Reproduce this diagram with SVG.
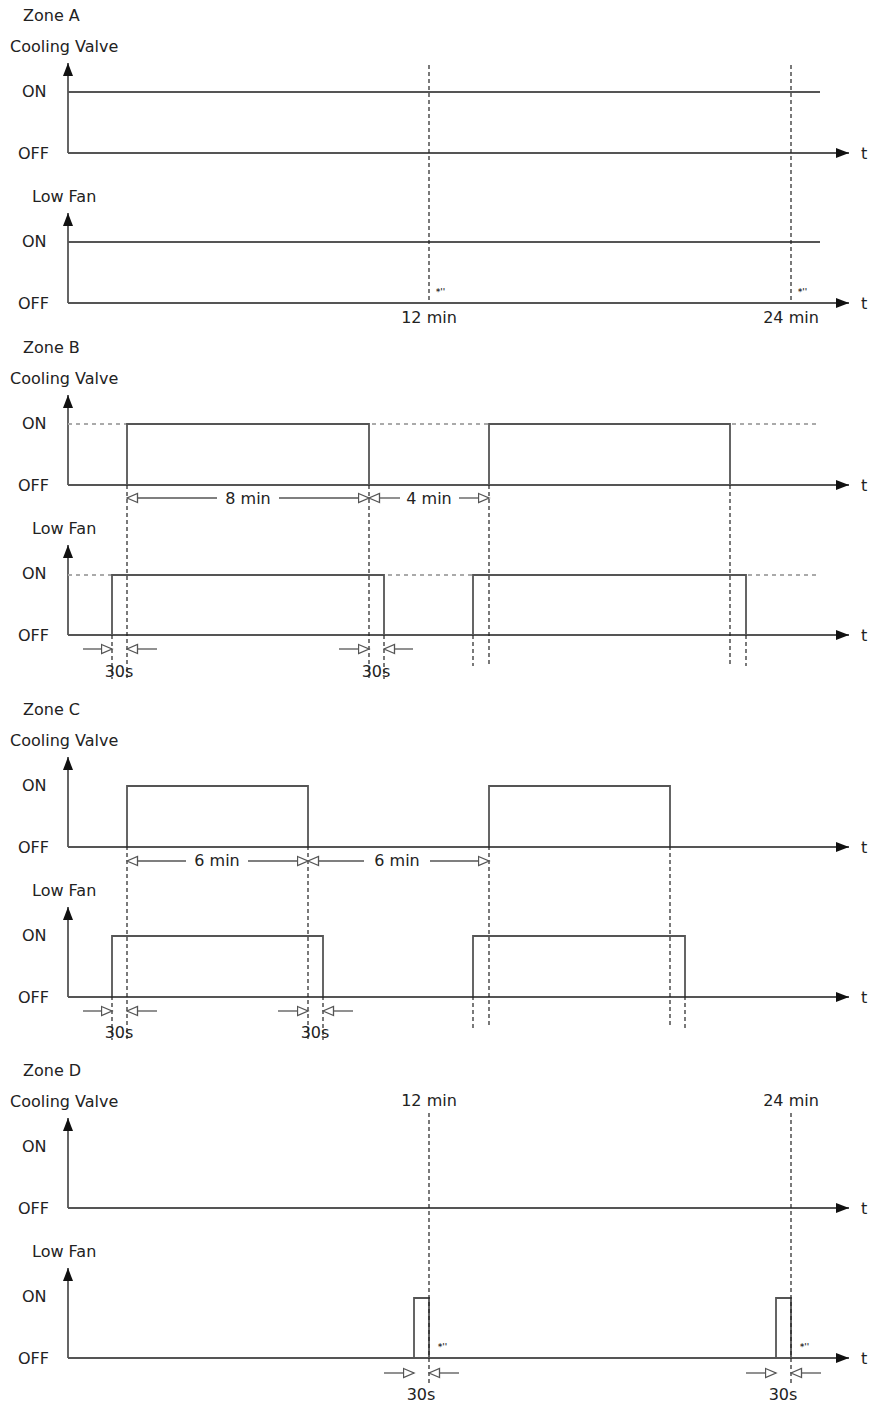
<svg xmlns="http://www.w3.org/2000/svg" width="871" height="1407" viewBox="0 0 871 1407">
<style>
text{font-family:"DejaVu Sans","Liberation Sans",sans-serif;font-size:16px;fill:#222}
.m{text-anchor:middle}
.tiny{font-size:8px;font-weight:bold;fill:#333}
.ax{stroke:#555;stroke-width:1.8;fill:none}
.sig{stroke:#555;stroke-width:1.8;fill:none}
.on{stroke:#aaa;stroke-width:1.8;stroke-dasharray:4 4;fill:none}
.gd{stroke:#222;stroke-width:1.2;stroke-dasharray:4 3;fill:none}
.dim{stroke:#555;stroke-width:1.3;fill:none}
</style>
<defs>
<marker id="fa" markerWidth="13" markerHeight="10" refX="13" refY="5" orient="auto" markerUnits="userSpaceOnUse"><path d="M0,0 L13,5 L0,10 Z" fill="#111"/></marker>
<marker id="ha" markerWidth="13" markerHeight="12" refX="11.5" refY="6" orient="auto" markerUnits="userSpaceOnUse"><path d="M1,1.5 L11.5,6 L1,10.5 Z" fill="#fff" stroke="#555" stroke-width="1.3"/></marker>
<g id="axes">
<text x="10" y="52">Cooling Valve</text>
<text x="22" y="97">ON</text>
<text x="18" y="159">OFF</text>
<line class="ax" x1="68" y1="153" x2="68" y2="63" marker-end="url(#fa)"/>
<line class="ax" x1="68" y1="153" x2="849" y2="153" marker-end="url(#fa)"/>
<text x="861" y="159">t</text>
<text x="32" y="202">Low Fan</text>
<text x="22" y="247">ON</text>
<text x="18" y="309">OFF</text>
<line class="ax" x1="68" y1="303" x2="68" y2="213" marker-end="url(#fa)"/>
<line class="ax" x1="68" y1="303" x2="849" y2="303" marker-end="url(#fa)"/>
<text x="861" y="309">t</text>
</g>
</defs>

<g id="zoneA">
<text x="23" y="21">Zone A</text>
<use href="#axes"/>
<line class="sig" x1="68" y1="92" x2="820" y2="92"/>
<line class="sig" x1="68" y1="242" x2="820" y2="242"/>
<text class="tiny" x="436" y="295">*''</text>
<text class="tiny" x="798" y="295">*''</text>
<text class="m" x="429" y="323">12 min</text>
<text class="m" x="791" y="323">24 min</text>
</g>

<g id="zoneB">
<text x="23" y="353">Zone B</text>
<use href="#axes" transform="translate(0,332)"/>
<line class="on" x1="68" y1="424" x2="820" y2="424"/>
<line class="on" x1="68" y1="575" x2="820" y2="575"/>
<path class="sig" d="M127,485 V424 H369 V485 M489,485 V424 H730 V485"/>
<path class="sig" d="M112,635 V575 H384 V635 M473,635 V575 H746 V635"/>
<text class="m" x="248" y="504">8 min</text>
<text class="m" x="429" y="504">4 min</text>
<text class="m" x="119" y="677">30s</text>
<text class="m" x="376" y="677">30s</text>
</g>

<g id="zoneC">
<text x="23" y="715">Zone C</text>
<use href="#axes" transform="translate(0,694)"/>
<path class="sig" d="M127,846 V786 H308 V846 M489,846 V786 H670 V846"/>
<path class="sig" d="M112,996 V936 H323 V996 M473,996 V936 H685 V996"/>
<text class="m" x="217" y="866">6 min</text>
<text class="m" x="397" y="866">6 min</text>
<text class="m" x="119" y="1038">30s</text>
<text class="m" x="315" y="1038">30s</text>
</g>

<g id="zoneD">
<text x="23" y="1076">Zone D</text>
<use href="#axes" transform="translate(0,1055)"/>
<text class="m" x="429" y="1106">12 min</text>
<text class="m" x="791" y="1106">24 min</text>
<path class="sig" d="M414,1358 V1298 H429 V1358 M776,1358 V1298 H791 V1358"/>
<text class="tiny" x="438" y="1350">*''</text>
<text class="tiny" x="800" y="1350">*''</text>
<text class="m" x="421" y="1400">30s</text>
<text class="m" x="783" y="1400">30s</text>
</g>

<g id="connectors">
<path class="gd" d="M429,65 V303 M791,65 V303"/>
<path class="gd" d="M127,485 V679 M369,485 V679 M489,485 V666 M730,485 V666"/>
<path class="gd" d="M112,635 V679 M384,635 V679 M473,635 V666 M746,635 V666"/>
<path class="gd" d="M127,846 V1040 M308,846 V1040 M489,846 V1028 M670,846 V1028"/>
<path class="gd" d="M112,996 V1040 M323,996 V1040 M473,996 V1028 M685,996 V1028"/>
<path class="gd" d="M429,1113 V1386 M791,1113 V1386"/>
<line class="dim" x1="217" y1="498" x2="127" y2="498" marker-end="url(#ha)"/>
<line class="dim" x1="279" y1="498" x2="369" y2="498" marker-end="url(#ha)"/>
<line class="dim" x1="400" y1="498" x2="369" y2="498" marker-end="url(#ha)"/>
<line class="dim" x1="459" y1="498" x2="489" y2="498" marker-end="url(#ha)"/>
<line class="dim" x1="83" y1="649" x2="112" y2="649" marker-end="url(#ha)"/>
<line class="dim" x1="157" y1="649" x2="127" y2="649" marker-end="url(#ha)"/>
<line class="dim" x1="339" y1="649" x2="369" y2="649" marker-end="url(#ha)"/>
<line class="dim" x1="413" y1="649" x2="384" y2="649" marker-end="url(#ha)"/>
<line class="dim" x1="186" y1="861" x2="127" y2="861" marker-end="url(#ha)"/>
<line class="dim" x1="248" y1="861" x2="308" y2="861" marker-end="url(#ha)"/>
<line class="dim" x1="364" y1="861" x2="308" y2="861" marker-end="url(#ha)"/>
<line class="dim" x1="430" y1="861" x2="489" y2="861" marker-end="url(#ha)"/>
<line class="dim" x1="83" y1="1011" x2="112" y2="1011" marker-end="url(#ha)"/>
<line class="dim" x1="157" y1="1011" x2="127" y2="1011" marker-end="url(#ha)"/>
<line class="dim" x1="278" y1="1011" x2="308" y2="1011" marker-end="url(#ha)"/>
<line class="dim" x1="353" y1="1011" x2="323" y2="1011" marker-end="url(#ha)"/>
<line class="dim" x1="384" y1="1373" x2="414" y2="1373" marker-end="url(#ha)"/>
<line class="dim" x1="459" y1="1373" x2="429" y2="1373" marker-end="url(#ha)"/>
<line class="dim" x1="746" y1="1373" x2="776" y2="1373" marker-end="url(#ha)"/>
<line class="dim" x1="821" y1="1373" x2="791" y2="1373" marker-end="url(#ha)"/>
</g>
</svg>
